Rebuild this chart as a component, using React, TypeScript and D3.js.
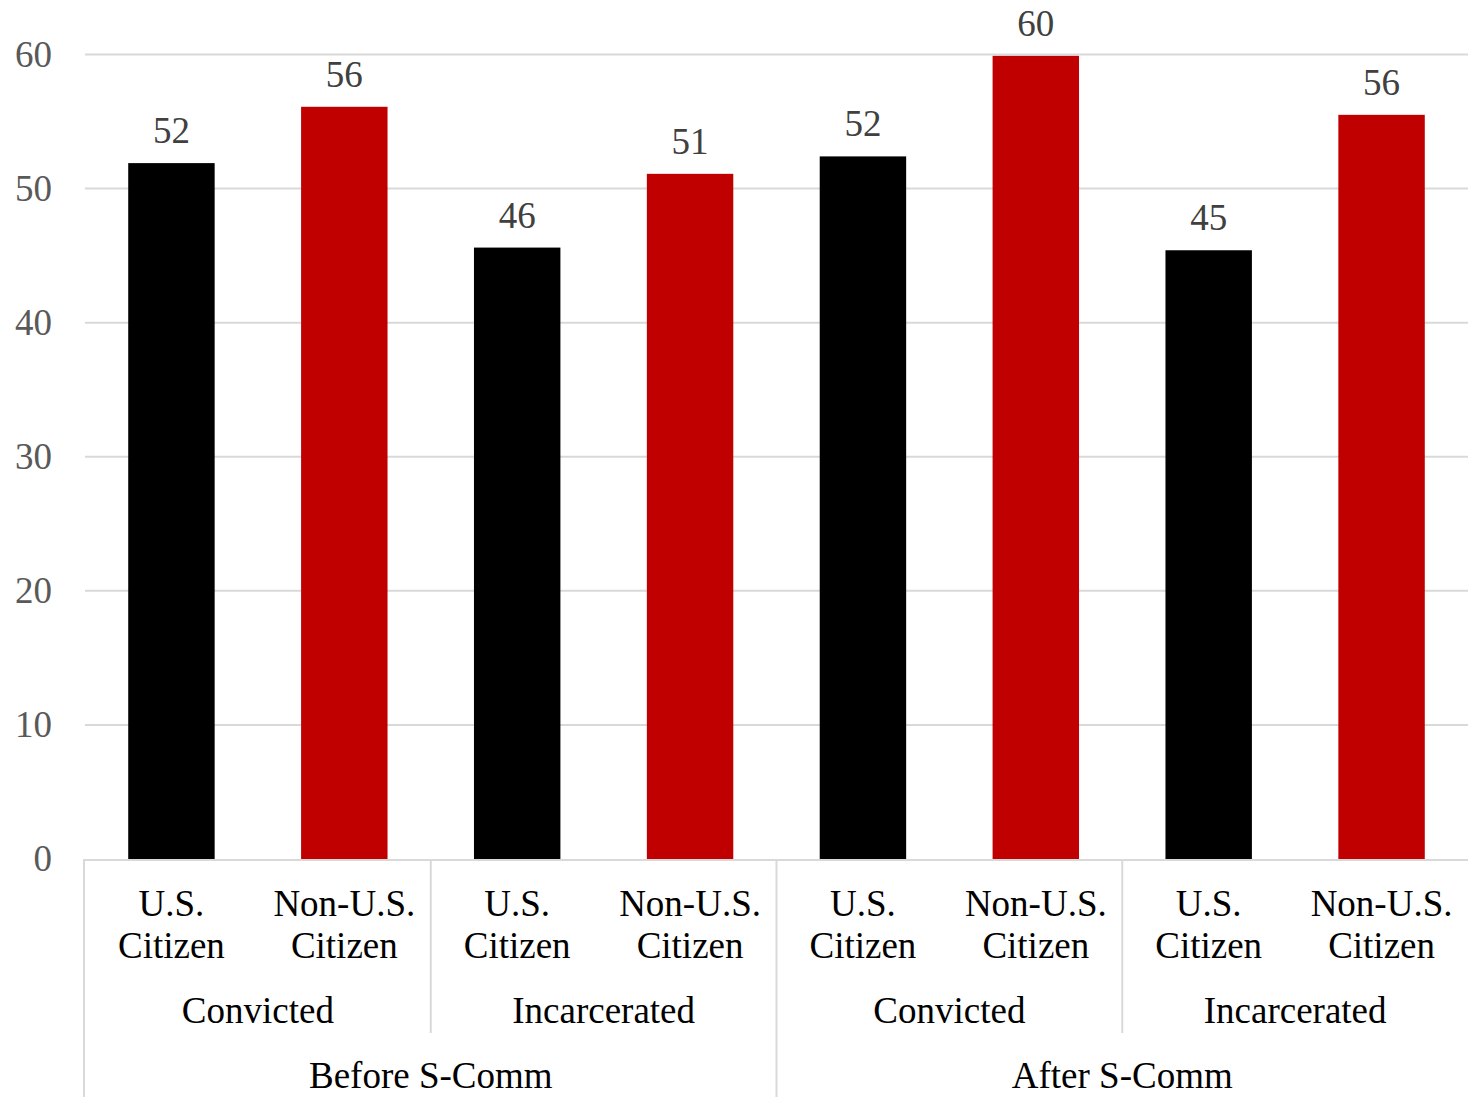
import React from "react";
import * as d3 from "d3";

const subLabels = ["U.S. Citizen", "Non-U.S. Citizen", "U.S. Citizen", "Non-U.S. Citizen", "U.S. Citizen", "Non-U.S. Citizen", "U.S. Citizen", "Non-U.S. Citizen"];
const midLabels = ["Convicted", "Incarcerated", "Convicted", "Incarcerated"];
const topLabels = ["Before S-Comm", "After S-Comm"];
const values = [51.9, 56.1, 45.6, 51.1, 52.4, 59.9, 45.4, 55.5];
const valueLabels = ["52", "56", "46", "51", "52", "60", "45", "56"];
const barColors = ["#000000", "#C00000", "#000000", "#C00000", "#000000", "#C00000", "#000000", "#C00000"];
const yTicks = [0, 10, 20, 30, 40, 50, 60];

const W = 1468;
const H = 1097;
const left = 85;
const right = 1468;
const y0 = 859;
const yTop = 54.5;
const FONT = "Liberation Serif, Times New Roman, Times, serif";
const FS = 37;

export default function App() {
  const idx = subLabels.map((_, i) => i);
  const x = d3.scaleBand<number>().domain(idx).range([left, right]).paddingInner(0.5).paddingOuter(0.25);
  const y = d3.scaleLinear().domain([0, 60]).range([y0, yTop]);
  const step = x.step();
  const cx = (i: number) => (x(i) as number) + x.bandwidth() / 2;
  const edge = (i: number) => left + i * step;
  const ts = { fontFamily: FONT, fontSize: FS } as React.CSSProperties;

  return (
    <svg width={W} height={H} style={{ position: "absolute", left: 0, top: 0, fontFamily: FONT }}>
      <rect x={0} y={0} width={W} height={H} fill="#fff" />
      {yTicks.map((t) => (
        <g key={t}>
          {t > 0 && <line x1={left} x2={right} y1={y(t)} y2={y(t)} stroke="#d9d9d9" strokeWidth={2} />}
          <text x={52} y={y(t) + 12} textAnchor="end" style={ts} fill="#595959">{t}</text>
        </g>
      ))}
      {values.map((v, i) => (
        <g key={i}>
          <rect x={x(i)} y={y(v)} width={x.bandwidth()} height={y0 - y(v)} fill={barColors[i]} />
          <text x={cx(i)} y={y(v) - 20} textAnchor="middle" style={ts} fill="#404040">{valueLabels[i]}</text>
        </g>
      ))}
      <line x1={left - 1} x2={right} y1={y0 + 1} y2={y0 + 1} stroke="#d9d9d9" strokeWidth={2} />
      <line x1={left - 1} x2={left - 1} y1={y0} y2={H} stroke="#d9d9d9" strokeWidth={2} />
      {[2, 6].map((k) => (
        <line key={k} x1={edge(k)} x2={edge(k)} y1={y0} y2={1033} stroke="#d9d9d9" strokeWidth={2} />
      ))}
      <line x1={edge(4)} x2={edge(4)} y1={y0} y2={H} stroke="#d9d9d9" strokeWidth={2} />
      {subLabels.map((s, i) => {
        const parts = s.split(" ");
        const l1 = parts.slice(0, parts.length - 1).join(" ");
        const l2 = parts[parts.length - 1];
        return (
          <g key={i}>
            <text x={cx(i)} y={916} textAnchor="middle" style={ts} fill="#000">{l1}</text>
            <text x={cx(i)} y={958} textAnchor="middle" style={ts} fill="#000">{l2}</text>
          </g>
        );
      })}
      {midLabels.map((m, j) => (
        <text key={j} x={edge(2 * j) + step} y={1023} textAnchor="middle" style={ts} fill="#000">{m}</text>
      ))}
      {topLabels.map((t, j) => (
        <text key={j} x={edge(4 * j) + 2 * step} y={1088} textAnchor="middle" style={ts} fill="#000">{t}</text>
      ))}
    </svg>
  );
}
